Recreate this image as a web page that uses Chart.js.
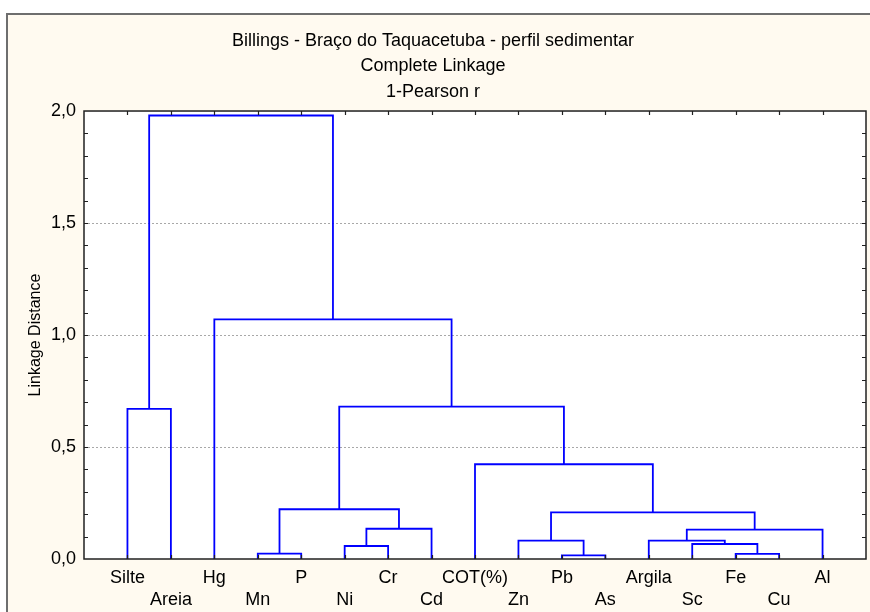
<!DOCTYPE html>
<html>
<head>
<meta charset="utf-8">
<script src="https://cdn.jsdelivr.net/npm/chart.js@4.4.1/dist/chart.umd.min.js"></script>
<style>
  html, body { margin: 0; padding: 0; background: #fff; }
  canvas { display: block; }
</style>
</head>
<body>
<canvas id="out" width="870" height="612"></canvas>
<script>
const titleLines = ["Billings - Braço do Taquacetuba - perfil sedimentar", "Complete Linkage", "1-Pearson r"];
const yTitle = "Linkage Distance";

// leaves in dendrogram order
const leaves = ["Silte", "Areia", "Hg", "Mn", "P", "Ni", "Cr", "Cd", "COT(%)", "Zn", "Pb", "As", "Argila", "Sc", "Fe", "Cu", "Al"];

// merges: leaf index 0..16, new clusters numbered from 17 on
const mergeA = [3, 10, 14, 5, 13, 9, 12, 23, 20, 22, 17, 8, 0, 27, 2, 29];
const mergeB = [4, 11, 15, 6, 19, 18, 21, 16, 7, 24, 25, 26, 1, 28, 30, 31];
const mergeHeight = [0.024, 0.016, 0.023, 0.058, 0.067, 0.082, 0.082, 0.131, 0.135, 0.208, 0.222, 0.423, 0.67, 0.68, 1.07, 1.98];

const yMinorStep = 0.1;
const yGridValues = [0.5, 1.0, 1.5];

const sans = "'Liberation Sans', Arial, sans-serif";

// node positions: leaf i sits at x = i + 1, a cluster in the middle of its children
var nodeX = leaves.map((l, i) => i + 1);
var nodeY = leaves.map(() => 0);
var datasets = [];
for (let i = 0; i < mergeA.length; i++) {
  const a = mergeA[i], b = mergeB[i], h = mergeHeight[i];
  datasets.push({
    data: [
      {x: nodeX[a], y: nodeY[a]},
      {x: nodeX[a], y: h},
      {x: nodeX[b], y: h},
      {x: nodeX[b], y: nodeY[b]}
    ],
    borderColor: 'rgb(0,0,255)',
    borderWidth: 1.8,
    pointRadius: 0,
    fill: false,
    tension: 0
  });
  nodeX.push((nodeX[a] + nodeX[b]) / 2);
  nodeY.push(h);
}

const framePlugin = {
  id: 'frame',
  beforeDraw(chart) {
    const ctx = chart.ctx, a = chart.chartArea, y = chart.scales.y;
    ctx.save();
    ctx.fillStyle = '#fff';
    ctx.fillRect(0, 0, chart.width, chart.height);
    ctx.fillStyle = 'rgb(255,250,240)';
    ctx.fillRect(7, 14, chart.width, chart.height);
    ctx.strokeStyle = '#6e6e6e';
    ctx.lineWidth = 2;
    ctx.beginPath();
    ctx.moveTo(7, chart.height);
    ctx.lineTo(7, 14);
    ctx.lineTo(chart.width, 14);
    ctx.stroke();
    ctx.fillStyle = '#fff';
    ctx.fillRect(a.left, a.top, a.width, a.height);
    // dashed grid
    ctx.strokeStyle = '#a8a8a8';
    ctx.lineWidth = 1;
    ctx.setLineDash([2, 2]);
    yGridValues.forEach(v => {
      const py = Math.round(y.getPixelForValue(v)) + 0.5;
      ctx.beginPath();
      ctx.moveTo(a.left, py);
      ctx.lineTo(a.right, py);
      ctx.stroke();
    });
    ctx.restore();
  },
  afterDatasetsDraw(chart) {
    const ctx = chart.ctx, a = chart.chartArea, x = chart.scales.x, y = chart.scales.y;
    ctx.save();
    ctx.strokeStyle = '#202020';
    ctx.lineWidth = 1.5;
    ctx.strokeRect(a.left, a.top, a.width, a.height);
    ctx.lineWidth = 1.2;
    ctx.beginPath();
    leaves.forEach((l, i) => {
      const px = Math.round(x.getPixelForValue(i + 1)) + 0.5;
      ctx.moveTo(px, a.top); ctx.lineTo(px, a.top + 4);
      ctx.moveTo(px, a.bottom); ctx.lineTo(px, a.bottom - 4);
    });
    for (let v = yMinorStep; v < y.max - 1e-6; v += yMinorStep) {
      const py = Math.round(y.getPixelForValue(v)) + 0.5;
      ctx.moveTo(a.left, py); ctx.lineTo(a.left + 4, py);
      ctx.moveTo(a.right, py); ctx.lineTo(a.right - 4, py);
    }
    ctx.stroke();
    ctx.restore();
  }
};

new Chart(document.getElementById('out').getContext('2d'), {
  type: 'line',
  data: { datasets: datasets },
  options: {
    responsive: false,
    animation: false,
    events: [],
    layout: { padding: { left: 0, right: 4, top: 0, bottom: 0 } },
    plugins: {
      legend: { display: false },
      tooltip: { enabled: false },
      title: {
        display: true,
        text: titleLines,
        color: '#000',
        font: { family: sans, size: 18, weight: 'normal', lineHeight: 1.417 },
        padding: { top: 28, bottom: 6.5 }
      }
    },
    scales: {
      x: {
        type: 'linear',
        min: 0,
        max: leaves.length + 1,
        grid: { display: false, drawTicks: false },
        border: { display: false },
        afterBuildTicks: s => { s.ticks = leaves.map((l, i) => ({ value: i + 1 })); },
        afterFit: s => { s.height = 53; },
        ticks: {
          autoSkip: false,
          maxRotation: 0,
          minRotation: 0,
          padding: 9,
          color: '#000',
          font: { family: sans, size: 18, lineHeight: 1.17 },
          callback: (v, i) => (i % 2 === 0 ? [leaves[i], ''] : ['', leaves[i]])
        }
      },
      y: {
        min: 0,
        max: 2,
        grid: { display: false, drawTicks: false },
        border: { display: false },
        afterFit: s => { s.width = 84; },
        ticks: {
          stepSize: 0.5,
          padding: 8,
          color: '#000',
          font: { family: sans, size: 18 },
          callback: v => v.toFixed(1).replace('.', ',')
        },
        title: {
          display: true,
          text: yTitle,
          color: '#000',
          font: { family: sans, size: 16 },
          padding: { top: 26, bottom: 0 }
        }
      }
    }
  },
  plugins: [framePlugin]
});
</script>
</body>
</html>
